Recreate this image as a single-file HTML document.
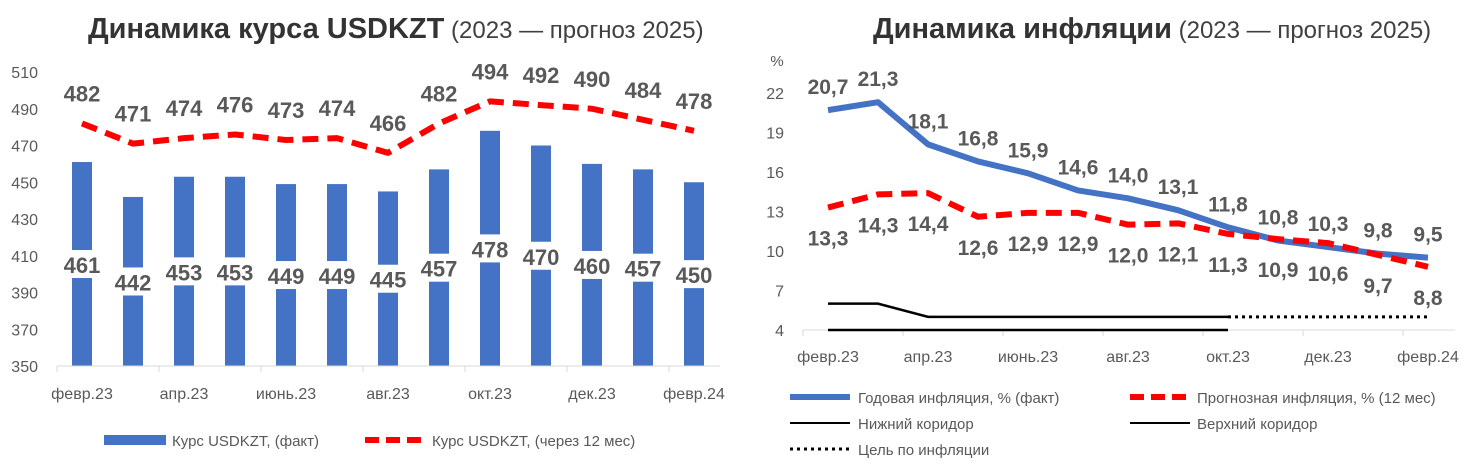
<!DOCTYPE html>
<html><head><meta charset="utf-8"><style>
body{margin:0;background:#fff;width:1474px;height:463px;overflow:hidden;font-family:"Liberation Sans Narrow","Liberation Sans",sans-serif;}
svg text{font-family:"Liberation Sans Narrow","Liberation Sans",sans-serif;}
</style></head><body>
<svg id="c" width="1474" height="463" xmlns="http://www.w3.org/2000/svg">
<text x="88" y="38" font-size="29" fill="#333"><tspan font-weight="bold">Динамика курса USDKZT</tspan><tspan font-size="24" fill="#404040"> (2023 — прогноз 2025)</tspan></text>
<text x="873" y="38" font-size="29" fill="#333"><tspan font-weight="bold">Динамика инфляции</tspan><tspan font-size="24" fill="#404040"> (2023 — прогноз 2025)</tspan></text>
<g id="L"></g><g id="R"></g>
<g>
<rect x="104" y="435" width="62" height="10" fill="#4472c4"/>
<text x="172" y="446" font-size="15" fill="#595959">Курс USDKZT, (факт)</text>
<line x1="365" y1="440" x2="426" y2="440" stroke="#f00" stroke-width="6" stroke-dasharray="14,7"/>
<text x="432" y="446" font-size="15" fill="#595959">Курс USDKZT, (через 12 мес)</text>
</g>
<g>
<line x1="790" y1="397" x2="850" y2="397" stroke="#4472c4" stroke-width="6"/>
<text x="858" y="403" font-size="15" fill="#595959">Годовая инфляция, % (факт)</text>
<line x1="1130" y1="397" x2="1190" y2="397" stroke="#f00" stroke-width="6" stroke-dasharray="14,7"/>
<text x="1197" y="403" font-size="15" fill="#595959">Прогнозная инфляция, % (12 мес)</text>
<line x1="790" y1="423" x2="850" y2="423" stroke="#000" stroke-width="2"/>
<text x="858" y="429" font-size="15" fill="#595959">Нижний коридор</text>
<line x1="1130" y1="423" x2="1190" y2="423" stroke="#000" stroke-width="2"/>
<text x="1197" y="429" font-size="15" fill="#595959">Верхний коридор</text>
<line x1="790" y1="449" x2="850" y2="449" stroke="#000" stroke-width="3" stroke-dasharray="3,4"/>
<text x="858" y="455" font-size="15" fill="#595959">Цель по инфляции</text>
</g>
</svg>
<script>
const NS="http://www.w3.org/2000/svg";
const lCats=["февр.23","","апр.23","","июнь.23","","авг.23","","окт.23","","дек.23","","февр.24"];
const lFact=[461,442,453,453,449,449,445,457,478,470,460,457,450];
const lFcst=[482,471,474,476,473,474,466,482,494,492,490,484,478];
const lTicks=[350,370,390,410,430,450,470,490,510];
const rCats=["февр.23","","апр.23","","июнь.23","","авг.23","","окт.23","","дек.23","","февр.24"];
const rFact=[20.7,21.3,18.1,16.8,15.9,14.6,14.0,13.1,11.8,10.8,10.3,9.8,9.5];
const rFcst=[13.3,14.3,14.4,12.6,12.9,12.9,12.0,12.1,11.3,10.9,10.6,9.7,8.8];
const rLow=[4,4,4,4,4,4,4,4,4];
const rHigh=[6,6,5,5,5,5,5,5,5];
const rTarget=[null,null,null,null,null,null,null,null,5,5,5,5,5];
const rTicks=[4,7,10,13,16,19,22];
function mk(p,t,a,txt){const e=document.createElementNS(NS,t);for(const k in a)e.setAttribute(k,a[k]);if(txt!=null)e.textContent=txt;p.appendChild(e);return e;}
const fmt=v=>v.toFixed(1).replace('.',',');
// left
const L=document.getElementById('L');
const lx=i=>82+i*51, ly=v=>366-(v-350)*(294/160);
lTicks.forEach(t=>{const e=mk(L,'text',{x:38,y:ly(t)+6,'font-size':16,fill:'#595959','text-anchor':'end'},t);

});
lFact.forEach((v,i)=>{const r=mk(L,'rect',{x:lx(i)-10,y:ly(v),width:20,height:366-ly(v),fill:'#4472c4'});


const m=(ly(v)+366)/2;
mk(L,'rect',{x:lx(i)-20,y:m-14,width:40,height:28,fill:'#fff'});
const t=mk(L,'text',{x:lx(i),y:m+9,'font-size':22,'font-weight':'bold',fill:'#595959','text-anchor':'middle'},v);

});
mk(L,'line',{x1:57,y1:366,x2:720,y2:366,stroke:'#d9d9d9','stroke-width':1});
for(let k=0;k<=6;k++){const x=57+k*102;mk(L,'line',{x1:x,y1:366,x2:x,y2:372,stroke:'#d9d9d9'});}
lCats.forEach((c,i)=>{if(c){const t=mk(L,'text',{x:lx(i),y:399,'font-size':16,fill:'#595959','text-anchor':'middle'},c);

}});
const lp=mk(L,'path',{d:lFcst.map((v,i)=>(i?'L':'M')+lx(i)+','+ly(v)).join(' '),fill:'none',stroke:'#f00','stroke-width':6,'stroke-dasharray':'16,9','stroke-linejoin':'round'});


lFcst.forEach((v,i)=>{const t=mk(L,'text',{x:lx(i),y:ly(v)-22,'font-size':22,'font-weight':'bold',fill:'#595959','text-anchor':'middle'},v);

});
// right
const R=document.getElementById('R');
const rx=i=>828+i*50, ry=v=>330-(v-4)*(237/18);
mk(R,'text',{x:777,y:66,'font-size':15,fill:'#595959','text-anchor':'middle'},'%');
rTicks.forEach(t=>{const e=mk(R,'text',{x:784,y:ry(t)+6,'font-size':16,fill:'#595959','text-anchor':'end'},t);

});
mk(R,'line',{x1:803,y1:330,x2:1455,y2:330,stroke:'#d9d9d9'});
for(let k=0;k<=6;k++){const x=803+k*100;mk(R,'line',{x1:x,y1:330,x2:x,y2:336,stroke:'#d9d9d9'});}
rCats.forEach((c,i)=>{if(c){const t=mk(R,'text',{x:rx(i),y:362,'font-size':16,fill:'#595959','text-anchor':'middle'},c);

}});
const path=(a,)=>{let d='',s=true;a.forEach((v,i)=>{if(v==null){s=true;return;}d+=(s?'M':'L')+rx(i)+','+ry(v)+' ';s=false;});return d;};
const p1=mk(R,'path',{d:path(rLow),fill:'none',stroke:'#000','stroke-width':2.5});


const p2=mk(R,'path',{d:path(rHigh),fill:'none',stroke:'#000','stroke-width':2.5});


const p3=mk(R,'path',{d:path(rTarget),fill:'none',stroke:'#000','stroke-width':3,'stroke-dasharray':'3,4'});


const p4=mk(R,'path',{d:path(rFact),fill:'none',stroke:'#4472c4','stroke-width':6,'stroke-linejoin':'round'});


const p5=mk(R,'path',{d:path(rFcst),fill:'none',stroke:'#f00','stroke-width':6,'stroke-dasharray':'16,9','stroke-linejoin':'round'});


rFact.forEach((v,i)=>{const t=mk(R,'text',{x:rx(i),y:ry(v)-16,'font-size':21,'font-weight':'bold',fill:'#595959','text-anchor':'middle'},fmt(v));

});
rFcst.forEach((v,i)=>{const t=mk(R,'text',{x:rx(i),y:ry(v)+38,'font-size':21,'font-weight':'bold',fill:'#595959','text-anchor':'middle'},fmt(v));

});
</script>
</body></html>
